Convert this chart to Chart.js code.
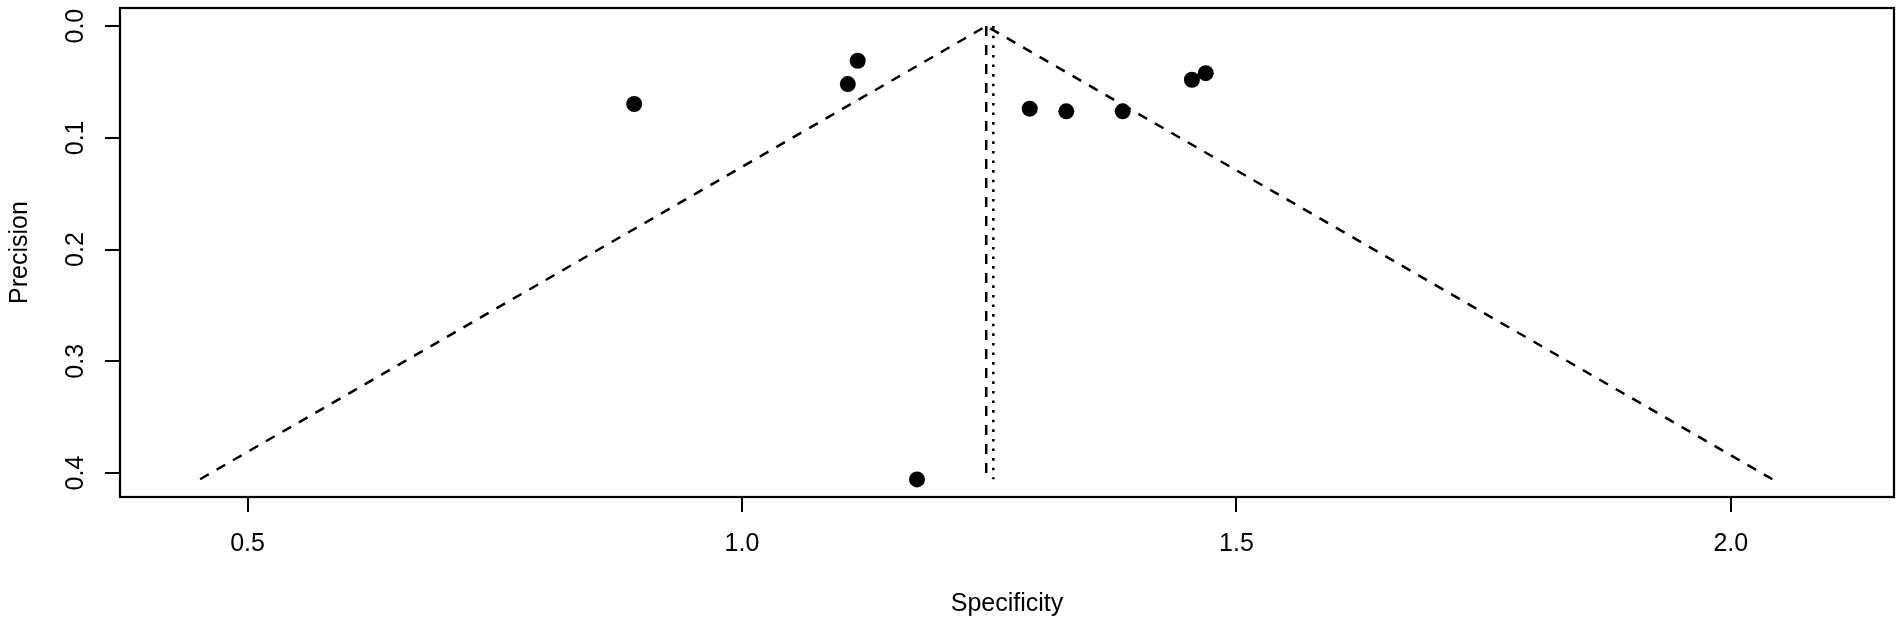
<!DOCTYPE html>
<html>
<head>
<meta charset="utf-8">
<script src="https://cdn.jsdelivr.net/npm/chart.js@4"></script>
<style>
  html, body { margin: 0; padding: 0; background: #fff; }
  #wrap { width: 1902px; height: 623px; }
</style>
</head>
<body>
<div id="wrap"><canvas id="c" width="1902" height="623"></canvas></div>
<script>
// ---- data ----
const specificity = [0.891, 1.107, 1.117, 1.177, 1.291, 1.328, 1.385, 1.455, 1.469];
const precision   = [0.0697, 0.0519, 0.031, 0.4057, 0.0739, 0.0763, 0.0763, 0.048, 0.0421];
const funnelX = [0.452, 1.247, 2.042];
const funnelY = [0.4055, 0, 0.4055];
const estimateX = [1.247, 1.247];
const estimateY = [0, 0.4055];
const refX = [1.2542, 1.2542];
const refY = [0, 0.4055];
const xTicks = [0.5, 1.0, 1.5, 2.0];
const yTicks = [0.0, 0.1, 0.2, 0.3, 0.4];
const xRange = [0.371, 2.165];
const yRange = [-0.0162, 0.4214];

const FONT = "'Liberation Sans', Arial, Helvetica, sans-serif";
const toPts = (xs, ys) => xs.map((x, i) => ({ x: x, y: ys[i] }));

const frame = {
  id: 'frame',
  afterDraw(chart) {
    const { ctx, chartArea: a } = chart;
    ctx.save();
    ctx.strokeStyle = '#000';
    ctx.lineWidth = 2.2;
    ctx.strokeRect(a.left, a.top, a.right - a.left, a.bottom - a.top);
    // rotated y tick labels (R style, reading bottom to top)
    const ys = chart.scales.y;
    ctx.fillStyle = '#000';
    ctx.font = '25px ' + FONT;
    ctx.textAlign = 'center';
    ctx.textBaseline = 'alphabetic';
    ys.ticks.forEach(t => {
      const py = ys.getPixelForValue(t.value);
      ctx.save();
      ctx.translate(83, py);
      ctx.rotate(-Math.PI / 2);
      ctx.fillText(t.value.toFixed(1), 0, 0);
      ctx.restore();
    });
    ctx.restore();
  }
};

new Chart(document.getElementById('c'), {
  type: 'scatter',
  data: {
    datasets: [
      {
        data: toPts(specificity, precision),
        backgroundColor: '#000',
        borderWidth: 0,
        pointRadius: 8,
        pointHoverRadius: 8
      },
      {
        type: 'line',
        data: toPts(funnelX, funnelY),
        borderColor: '#000',
        borderWidth: 2.5,
        borderDash: [10, 9],
        pointRadius: 0,
        fill: false,
        tension: 0
      },
      {
        type: 'line',
        data: toPts(estimateX, estimateY),
        borderColor: '#000',
        borderWidth: 2.5,
        borderDash: [10, 9],
        pointRadius: 0,
        fill: false
      },
      {
        type: 'line',
        data: toPts(refX, refY),
        borderColor: '#000',
        borderWidth: 2.6,
        borderDash: [2.6, 7],
        pointRadius: 0,
        fill: false
      }
    ]
  },
  options: {
    responsive: false,
    animation: false,
    devicePixelRatio: 1,
    events: [],
    layout: { padding: { top: 6, right: 7, bottom: 0, left: 0 } },
    plugins: { legend: { display: false }, tooltip: { enabled: false } },
    scales: {
      x: {
        type: 'linear',
        min: xRange[0],
        max: xRange[1],
        afterBuildTicks: s => { s.ticks = xTicks.map(v => ({ value: v })); },
        afterFit: s => { s.height = 126; },
        ticks: {
          callback: v => Number(v).toFixed(1),
          font: { family: FONT, size: 25 },
          color: '#000',
          padding: 17,
          maxRotation: 0,
          autoSkip: false
        },
        grid: { drawOnChartArea: false, drawTicks: true, tickLength: 15, color: '#000', lineWidth: 2 },
        border: { display: false },
        title: {
          display: true,
          text: 'Specificity',
          color: '#000',
          font: { family: FONT, size: 25 },
          padding: { top: 0, bottom: 4 }
        }
      },
      y: {
        type: 'linear',
        reverse: true,
        min: yRange[0],
        max: yRange[1],
        afterBuildTicks: s => { s.ticks = yTicks.map(v => ({ value: v })); },
        afterFit: s => { s.width = 120; },
        ticks: { display: false },
        grid: { drawOnChartArea: false, drawTicks: true, tickLength: 15, color: '#000', lineWidth: 2 },
        border: { display: false },
        title: {
          display: true,
          text: 'Precision',
          color: '#000',
          font: { family: FONT, size: 25 },
          padding: { top: 5, bottom: 0 }
        }
      }
    }
  },
  plugins: [frame]
});
</script>
</body>
</html>
